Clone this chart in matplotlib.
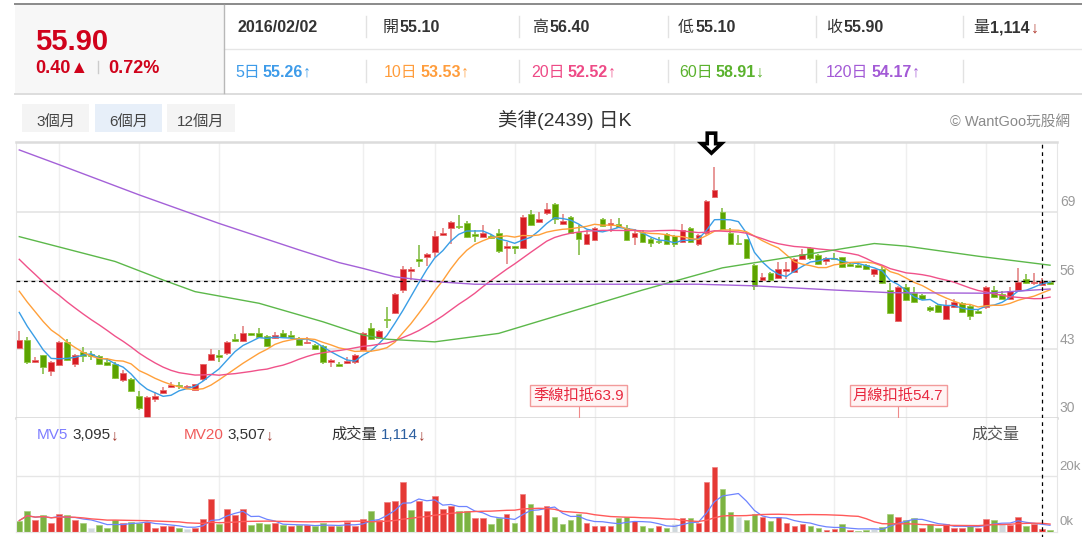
import numpy as np
import pandas as pd
import matplotlib
matplotlib.use('Agg')
import matplotlib.pyplot as plt
from matplotlib.patches import Rectangle, Polygon
from matplotlib.lines import Line2D
from matplotlib.transforms import IdentityTransform

W, H = 1082, 537
FONTS = ['Liberation Sans', 'Noto Sans CJK TC', 'DejaVu Sans']
plt.rcParams['font.family'] = FONTS

# daily candles, 美律(2439), about six months up to 2016/02/03
opens = [43.3, 44.75, 40.5, 41.9, 38.8, 40.0, 44.4, 40.3, 42.5, 42.1,
         41.7, 40.5, 40.2, 37.2, 37.3, 34.2, 29.9, 33.5, 34.8, 35.8,
         36.2, 35.8, 35.3, 37.3, 40.9, 41.9, 42.2, 45.0, 44.6, 46.0,
         46.0, 45.5, 45.1, 46.1, 45.7, 45.2, 44.1, 43.8, 43.7, 40.5,
         40.2, 40.4, 40.5, 42.8, 47.1, 45.2, 48.8, 49.9, 54.2, 57.8,
         60.1, 60.4, 61.4, 64.7, 66.0, 66.3, 66.8, 64.8, 64.3, 64.4,
         64.9, 62.1, 62.5, 62.1, 68.6, 67.1, 68.8, 70.5, 66.6, 68.1,
         65.2, 62.9, 63.6, 67.7, 66.5, 66.7, 65.9, 64.2, 65.0, 63.8,
         63.5, 64.8, 64.4, 63.3, 65.9, 63.0, 64.9, 71.8, 68.9, 65.0,
         63.1, 63.8, 58.9, 56.1, 57.5, 56.4, 57.8, 57.7, 60.0, 62.1,
         60.8, 59.7, 60.3, 60.4, 59.1, 58.9, 58.9, 57.2, 58.1, 54.2,
         48.4, 54.8, 53.7, 53.3, 50.9, 51.3, 48.8, 51.0, 51.7, 51.2,
         50.2, 50.9, 54.2, 53.4, 52.6, 54.3, 56.2, 55.5, 55.1, 55.8]
highs = [46.5, 45.3, 41.5, 42.0, 40.7, 44.6, 44.9, 42.1, 43.4, 42.7,
         41.9, 41.3, 40.5, 39.1, 37.5, 35.1, 34.2, 34.9, 35.8, 36.8,
         36.9, 36.3, 36.5, 40.3, 43.0, 42.9, 44.6, 45.8, 47.4, 46.1,
         47.1, 45.7, 46.2, 46.6, 46.5, 45.4, 45.4, 44.0, 43.9, 41.1,
         40.5, 41.6, 42.1, 46.2, 47.9, 46.7, 50.9, 53.6, 58.7, 58.6,
         62.7, 61.2, 65.4, 65.9, 67.2, 68.4, 67.3, 65.6, 66.5, 64.8,
         65.7, 63.3, 62.6, 68.3, 69.3, 69.0, 70.7, 70.7, 68.5, 68.2,
         66.5, 65.5, 66.2, 67.9, 67.6, 67.9, 66.5, 65.7, 65.5, 64.0,
         64.2, 65.0, 64.6, 66.7, 66.1, 64.8, 71.2, 77.5, 69.8, 66.0,
         64.6, 63.9, 59.1, 57.5, 57.6, 59.5, 59.5, 60.2, 61.9, 62.3,
         61.0, 60.4, 61.2, 60.5, 59.5, 59.5, 59.1, 58.2, 58.7, 55.5,
         55.0, 55.3, 54.8, 53.5, 51.2, 51.5, 52.3, 52.6, 51.9, 51.4,
         50.5, 54.9, 55.0, 54.0, 54.8, 58.3, 57.2, 57.5, 56.4, 56.0]
lows = [43.1, 40.3, 40.4, 38.3, 38.0, 39.9, 40.8, 39.7, 40.5, 40.9,
        40.0, 39.8, 37.3, 36.9, 35.0, 31.5, 29.8, 33.1, 34.6, 35.6,
        35.4, 35.6, 35.2, 37.0, 40.8, 40.5, 42.0, 44.3, 44.4, 45.5,
        45.3, 43.5, 45.0, 45.2, 45.0, 43.8, 44.0, 42.9, 40.2, 39.7,
        39.6, 40.3, 40.3, 42.7, 44.8, 45.0, 47.1, 49.7, 53.7, 56.1,
        58.6, 58.7, 60.5, 64.5, 63.0, 65.8, 64.0, 63.3, 64.2, 63.9,
        61.3, 59.2, 61.0, 62.0, 66.3, 66.9, 68.4, 66.7, 66.5, 64.8,
        60.8, 62.7, 63.4, 66.1, 65.2, 66.0, 63.5, 62.7, 63.1, 62.4,
        63.0, 62.8, 62.3, 63.1, 63.1, 62.6, 64.7, 71.6, 65.5, 62.8,
        62.7, 60.0, 54.3, 55.9, 55.8, 56.2, 56.2, 57.5, 59.8, 59.9,
        59.0, 58.9, 59.9, 58.3, 58.5, 58.4, 57.9, 56.6, 55.3, 49.6,
        48.2, 52.2, 51.8, 52.4, 50.1, 49.8, 48.6, 50.8, 49.8, 48.6,
        49.7, 50.7, 52.7, 52.5, 52.4, 54.1, 55.3, 55.2, 55.1, 55.2]
closes = [44.75, 40.5, 41.0, 39.6, 40.5, 44.4, 40.9, 42.0, 41.7, 41.7,
          40.2, 40.0, 37.6, 38.6, 35.2, 31.8, 34.0, 34.2, 35.3, 36.2,
          36.0, 36.1, 36.4, 40.2, 42.1, 41.6, 44.4, 44.5, 46.0, 45.7,
          45.4, 43.7, 45.7, 45.4, 45.4, 43.9, 44.4, 43.0, 40.5, 40.9,
          39.8, 40.7, 41.9, 46.1, 45.0, 46.5, 48.5, 53.4, 58.2, 58.1,
          59.6, 61.1, 64.4, 65.0, 67.1, 66.1, 64.2, 64.5, 65.0, 64.0,
          61.6, 62.5, 62.1, 68.1, 66.5, 67.6, 69.6, 67.6, 67.3, 65.0,
          63.9, 64.8, 66.0, 66.3, 66.9, 66.2, 63.7, 64.9, 63.3, 63.1,
          63.3, 63.0, 63.0, 65.5, 63.3, 64.6, 71.0, 73.1, 65.7, 63.0,
          62.9, 60.2, 54.9, 56.6, 56.1, 58.1, 58.1, 60.0, 61.1, 60.2,
          59.2, 60.2, 60.1, 58.5, 58.7, 58.6, 58.1, 58.1, 55.5, 49.8,
          54.7, 52.4, 52.0, 52.6, 50.4, 50.0, 51.4, 52.0, 50.0, 49.3,
          49.9, 54.7, 52.9, 52.6, 54.0, 55.8, 55.5, 55.8, 55.9, 55.4]
# estimated closes before the window, so the short averages start where the chart does
prev_closes = [70, 69, 68.5, 68, 67, 66, 65, 64, 63, 60,
               61, 59.5, 58, 56.5, 55, 53.5, 52, 51, 48.5]

volumes = [4100, 7600, 4300, 6200, 3300, 6400, 6000, 4200, 3400, 1600,
           2500, 1600, 4400, 3200, 3600, 3200, 3600, 1600, 2100, 2100,
           1600, 1200, 1600, 4600, 11800, 2700, 8200, 6200, 8200, 2500,
           3100, 2700, 3200, 2500, 2000, 2500, 2500, 2000, 3200, 2000,
           2000, 3600, 2100, 4700, 7600, 4300, 10800, 11300, 17800, 8000,
           11300, 7600, 12900, 8400, 9200, 7600, 7600, 4900, 5200, 2700,
           5200, 6400, 3100, 13800, 10100, 6200, 9200, 5500, 2700, 4300,
           6400, 3100, 2300, 2300, 2300, 4900, 5500, 3900, 2000, 1500,
           2000, 1600, 3000, 5200, 4900, 3100, 17800, 23400, 15400, 7100,
           5300, 4300, 6600, 5500, 3900, 5500, 3400, 2200, 2700, 2200,
           1500, 700, 1100, 2700, 700, 400, 700, 1200, 1800, 6400,
           5500, 4300, 4900, 1500, 2700, 1600, 2800, 1600, 1600, 2200,
           1500, 4700, 4400, 3000, 2500, 5500, 2000, 2700, 1114, 700]
# r = up, g = down, n = unchanged (vs previous close)
vol_dir = ("ggrgrrgrgn" "gggrggrrrr" "gnrrrgrrrg" "ggrgrgrggr" "grrrgrrrrg"
           "rrrrrggrrg" "grgrgrrggg" "grrrrggrgg" "rgnrgrrrgg" "nggrgrrrrg"
           "grrgrggngg" "rggrggrrrg" "rrgnrrgrrg")

# long averages at a few candles
ma60_idx = [0, 12, 18, 22, 30, 38, 43, 46, 52, 60, 69, 78, 88, 98, 107, 111, 120, 129]
ma60_val = [64.3, 59.6, 56.1, 53.9, 51.7, 48.2, 45.7, 44.9, 44.4, 46.0, 50.1, 54.2, 58.4, 60.8, 63.0, 62.5, 60.6, 58.9]
ma120_idx = [0, 5, 15, 25, 35, 40, 43, 47, 52, 57, 69, 85, 92, 102, 109, 121, 129]
ma120_val = [80.7, 77.9, 72.2, 66.8, 61.8, 59.4, 58.3, 56.7, 55.8, 55.3, 55.3, 55.3, 55.0, 54.2, 53.7, 53.6, 54.4]

price_ticks = [30, 43, 56, 69]
vol_ticks = [0, 20000]
vgrid_idx = [5, 15, 25, 43, 52, 62, 72, 82, 92, 102, 111, 121]
cursor = 128
spike = 87
deduct = [(70, '季線扣抵'), (110, '月線扣抵')]

header_row1 = [(237, [('2016/02/02', '#333333', True)]),
               (383, [('開', '#333333', False), ('55.10', '#333333', True)]),
               (532, [('高', '#333333', False), ('56.40', '#333333', True)]),
               (678, [('低', '#333333', False), ('55.10', '#333333', True)]),
               (826, [('收', '#333333', False), ('55.90', '#333333', True)]),
               (973, [('量', '#333333', False), ('1,114', '#333333', True), ('↓', '#b0392e', False)])]
header_row2 = [(235, '5日', '55.26', '↑', '#3d9be9'),
               (384, '10日', '53.53', '↑', '#ff9d3c'),
               (531, '20日', '52.52', '↑', '#ee4a86'),
               (679, '60日', '58.91', '↓', '#5bb22e'),
               (826, '120日', '54.17', '↑', '#a35ad6')]

fig = plt.figure(figsize=(W / 100, H / 100), dpi=100)
renderer = fig.canvas.get_renderer()


def fx(x):
    return x / W


def fy(y):
    return 1 - y / H


def hline(x0, x1, y, color, lw=1.0):
    fig.add_artist(Line2D([fx(x0), fx(x1)], [fy(y), fy(y)], color=color, lw=lw))


def vline(x, y0, y1, color, lw=1.0):
    fig.add_artist(Line2D([fx(x), fx(x)], [fy(y0), fy(y1)], color=color, lw=lw))


def run(x, y, pieces, size, gap=0):
    # draw text pieces one after the other on a common baseline
    for s, color, bold in pieces:
        t = fig.text(fx(x), fy(y), s, fontsize=size, color=color,
                     fontweight='bold' if bold else 'normal', ha='left', va='baseline')
        x += t.get_window_extent(renderer).width + gap
    return x


# header block
fig.add_artist(Rectangle((fx(15), fy(93)), fx(224) - fx(15), fy(5) - fy(93), fc='#f7f7f7', ec='none'))
hline(15, W, 4, '#8a8a8a', 1.4)
hline(15, W, 93.5, '#dddddd', 1.4)
hline(224, W, 49, '#e6e6e6', 1.0)
vline(224, 5, 93, '#b8b8b8', 1.0)
for x in (366, 519, 668, 816, 963):
    vline(x, 16, 37, '#e2e2e2')
    vline(x, 60, 82, '#e2e2e2')

run(35, 50, [('55.90', '#d0021b', True)], 21)
run(35, 72.7, [('0.40▲', '#d0021b', True)], 13)
vline(98, 61, 73, '#cccccc')
run(108, 72.7, [('0.72%', '#d0021b', True)], 13)

for x, pieces in header_row1:
    run(x, 32.3, pieces, 11.5, gap=1)
for x, lab, val, arr, col in header_row2:
    x = run(x, 76.7, [(lab, col, False)], 11.5) + 3
    run(x, 76.7, [(val, col, True), (arr, col, False)], 11.5)

# range buttons and title
for (x0, x1, lab, bg) in ((22, 89, '3個月', '#f4f4f4'), (95, 162, '6個月', '#e7eff9'), (167, 235, '12個月', '#f4f4f4')):
    fig.add_artist(Rectangle((fx(x0), fy(132)), fx(x1) - fx(x0), fy(104) - fy(132), fc=bg, ec='none'))
    fig.text(fx((x0 + x1) / 2), fy(126), lab, fontsize=11, color='#444444', ha='center', va='baseline')
fig.text(fx(565), fy(126), '美律(2439) 日K', fontsize=14, color='#333333', ha='center', va='baseline')
fig.text(fx(950), fy(126), '© WantGoo玩股網', fontsize=10.5, color='#8a8a8a', ha='left', va='baseline')

# price pane
ax = fig.add_axes([fx(16), fy(418), fx(1057) - fx(16), fy(142) - fy(418)])
vx = fig.add_axes([fx(16), fy(532), fx(1057) - fx(16), fy(418) - fy(532)])

idx = np.arange(len(closes))
o, h, l, c = (np.array(a, dtype=float) for a in (opens, highs, lows, closes))
up = c >= o
diff = np.abs(c - o)
body_h = np.maximum(diff, 0.25)
body_lo = np.where(diff < 0.25, (o + c) / 2 - 0.125, np.minimum(o, c))

ax.vlines(idx[up], l[up], h[up], color='#e27a7a', lw=1.1, zorder=2)
ax.vlines(idx[~up], l[~up], h[~up], color='#7ab83a', lw=1.1, zorder=2)
ax.bar(idx[up], body_h[up], bottom=body_lo[up], width=0.72, color='#d71c24',
       edgecolor='#e86a6a', lw=0.6, zorder=2.5)
ax.bar(idx[~up], body_h[~up], bottom=body_lo[~up], width=0.72, color='#5ca300',
       edgecolor='#8cc63f', lw=0.6, zorder=2.5)

all_c = pd.Series(prev_closes + closes)
for n, col in ((5, '#3a9ee6'), (10, '#ffa03a'), (20, '#f0528a')):
    ma = all_c.rolling(n).mean().to_numpy()[len(prev_closes):]
    ax.plot(idx, ma, color=col, lw=1.0, zorder=3)
ax.plot(ma60_idx, ma60_val, color='#5cb84a', lw=1.0, zorder=3)
ax.plot(ma120_idx, ma120_val, color='#a461d8', lw=1.0, zorder=3)

ax.axhline(c[cursor], color='black', lw=0.9, ls=(0, (3, 3)), zorder=4)
ax.axvline(cursor, color='black', lw=0.9, ls=(0, (3, 3)), zorder=4)

for i, name in deduct:
    ax.vlines(i, 30, 32.5, color='#f08a8a', lw=0.8, zorder=4)
    ax.text(i, 34.2, f'{name}{c[i]:.1f}', fontsize=11, color='#e8283f', ha='center', va='center', zorder=5,
            bbox=dict(boxstyle='square,pad=0.22', fc='#fff4f4', ec='#f29a9a', lw=1.0))

ax.set_xlim(-0.41, 129.87)
ax.set_ylim(30, 82.2)
ax.set_yticks(price_ticks[1:])
ax.set_xticks(vgrid_idx)
ax.yaxis.grid(True, color='#e2e2e2', lw=1.1)
ax.xaxis.grid(True, color='#efefef', lw=1.0)
ax.set_axisbelow(True)
ax.tick_params(length=0, labelleft=False, labelbottom=False)
for v in price_ticks:
    ax.annotate(f'{v}', xy=(1, v), xycoords=('axes fraction', 'data'), xytext=(2, 7),
                textcoords='offset points', ha='left', va='center', fontsize=10,
                color='#9a9a9a', annotation_clip=False)
ax.spines['top'].set_color('#dcdcdc')
ax.spines['top'].set_linewidth(1.8)
ax.spines['bottom'].set_color('#d5d5d5')
ax.spines['bottom'].set_linewidth(1.8)
for s in ('left', 'right'):
    ax.spines[s].set_color('#e6e6e6')
    ax.spines[s].set_linewidth(0.8)

# volume pane
vcol = {'r': '#e53935', 'g': '#7cb342', 'n': '#cfd8dc'}
vedge = {'r': '#f08080', 'g': '#a5cf7a', 'n': '#e3e9ec'}
vol = np.array(volumes, dtype=float)
vx.bar(idx, vol, width=0.7, color=[vcol[d] for d in vol_dir],
       edgecolor=[vedge[d] for d in vol_dir], lw=0.5, zorder=2)
vs = pd.Series(vol)
vx.plot(idx, vs.rolling(5, min_periods=1).mean(), color='#6e84ff', lw=0.9, zorder=3)
vx.plot(idx, vs.rolling(20, min_periods=1).mean(), color='#ff5a5a', lw=1.0, zorder=3)
vx.axvline(cursor, ymin=-0.06, color='black', lw=0.9, ls=(0, (3, 3)), zorder=4, clip_on=False)

vx.set_xlim(-0.41, 129.87)
vx.set_ylim(0, 40900)
vx.set_yticks(vol_ticks[1:])
vx.set_xticks(vgrid_idx)
vx.yaxis.grid(True, color='#e6e6e6', lw=1.0)
vx.xaxis.grid(True, color='#efefef', lw=1.0)
vx.set_axisbelow(True)
vx.tick_params(length=0, labelleft=False, labelbottom=False)
for v in vol_ticks:
    vx.annotate(f'{v // 1000}k', xy=(1, v), xycoords=('axes fraction', 'data'), xytext=(1.5, 7),
                textcoords='offset points', ha='left', va='center', fontsize=9.5,
                color='#9a9a9a', annotation_clip=False)
vx.spines['top'].set_visible(False)
vx.spines['bottom'].set_color('#e6e6e6')
for s in ('left', 'right'):
    vx.spines[s].set_color('#e6e6e6')
    vx.spines[s].set_linewidth(0.8)

for x, lab, lab_col, val, val_col in ((37, 'MV5', '#7d7dff', '3,095', '#333333'),
                                      (184, 'MV20', '#f05a5a', '3,507', '#333333'),
                                      (331, '成交量', '#333333', '1,114', '#2b5fa0')):
    x = run(x, 439, [(lab, lab_col, False)], 11) + 4
    run(x, 439, [(val, val_col, False), ('↓', '#a33a30', False)], 11)
run(971, 439, [('成交量', '#555555', False)], 11.5)

# hollow arrow over the spike candle
ax_xy = ax.transData.transform((spike, h[spike]))
tipx, tipy = ax_xy[0] - 3, ax_xy[1] + 13.7
shape = [(0, 0), (10, 9.5), (4.2, 9.5), (4.2, 20), (-4.2, 20), (-4.2, 9.5), (-10, 9.5)]
fig.add_artist(Polygon([(tipx + dx, tipy + dy) for dx, dy in shape], closed=True,
                       transform=IdentityTransform(), fc='white', ec='black', lw=2.6, joinstyle='miter'))

fig.savefig('out.png', dpi=100, facecolor='white')
